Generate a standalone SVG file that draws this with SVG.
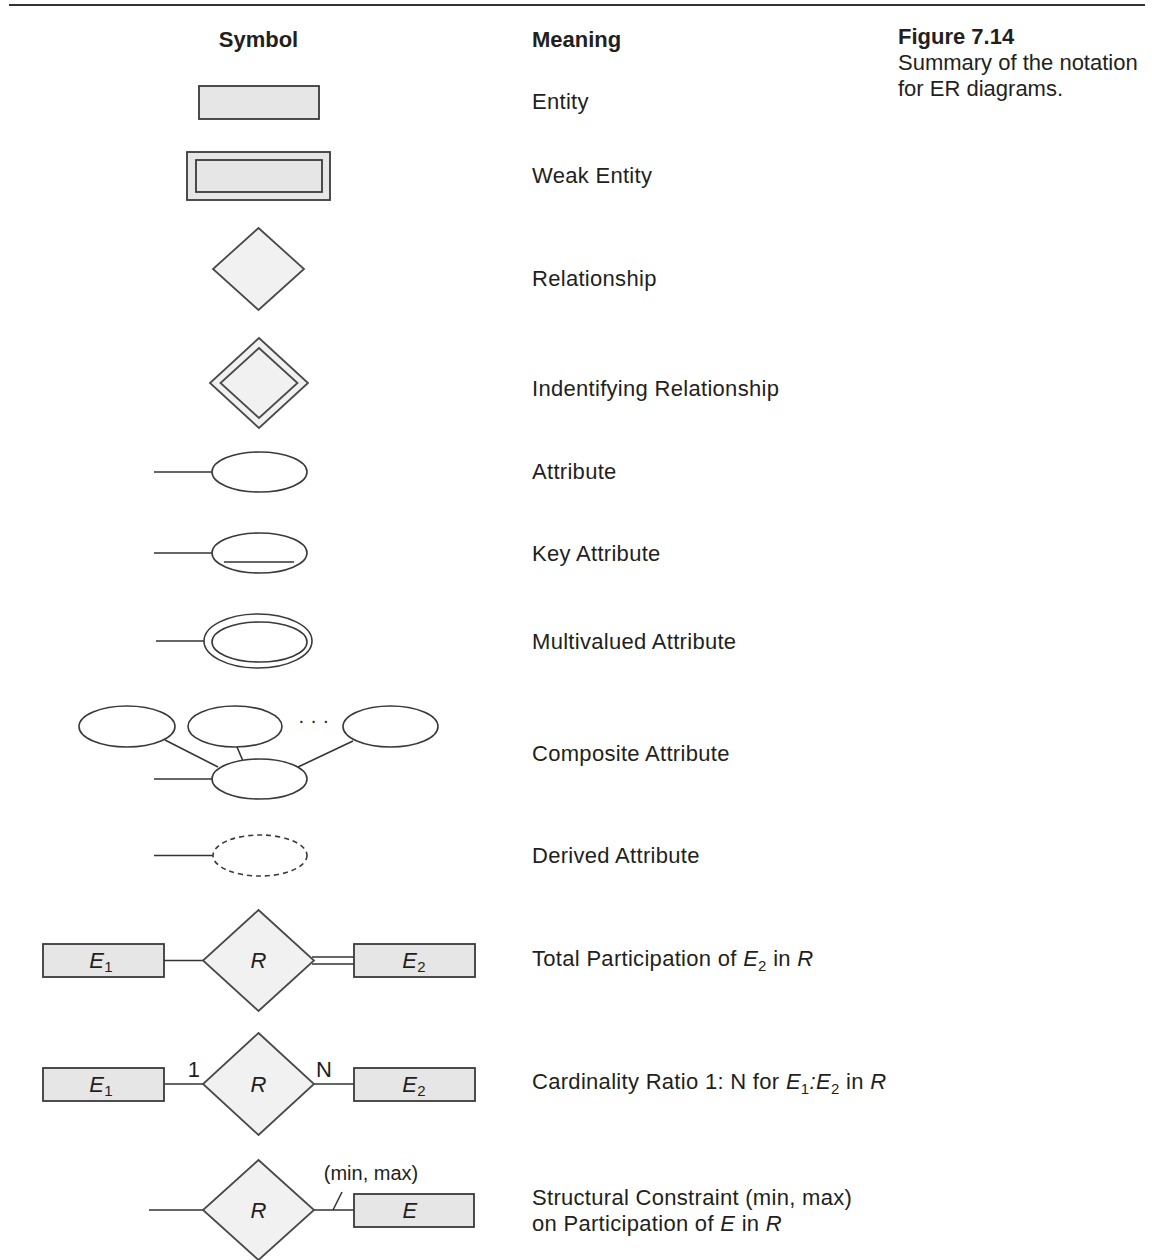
<svg xmlns="http://www.w3.org/2000/svg" width="1152" height="1260" viewBox="0 0 1152 1260">
  <style>
    text { font-family: "Liberation Sans", Arial, sans-serif; fill: #231f20; }
    .hdr { font-size: 22px; font-weight: bold; }
    .txt { font-size: 22px; letter-spacing: 0.3px; }
    .it { font-style: italic; }
    .sub { font-size: 15px; font-style: normal; }
    .ent { fill: #e6e6e6; stroke: #3a3a3a; stroke-width: 1.8; }
    .rel { fill: #f1f1f1; stroke: #4a4a4a; stroke-width: 1.8; }
    .att { fill: #ffffff; stroke: #3a3a3a; stroke-width: 1.6; }
    .ln { stroke: #333333; stroke-width: 1.6; fill: none; }
  </style>

  <!-- rule across the top -->
  <line x1="9" y1="5" x2="1145" y2="5" stroke="#333" stroke-width="2.2"/>

  <!-- column headers and caption -->
  <g id="headers">
    <text class="hdr" x="258.5" y="47" text-anchor="middle">Symbol</text>
    <text class="hdr" x="532" y="47">Meaning</text>
    <text class="hdr" x="898" y="44">Figure 7.14</text>
    <text class="txt" x="898" y="70" style="letter-spacing:0">Summary of the notation</text>
    <text class="txt" x="898" y="96" style="letter-spacing:0">for ER diagrams.</text>
  </g>

  <!-- meaning column -->
  <g id="meanings">
    <text class="txt" x="532" y="109">Entity</text>
    <text class="txt" x="532" y="183">Weak Entity</text>
    <text class="txt" x="532" y="286">Relationship</text>
    <text class="txt" x="532" y="396">Indentifying Relationship</text>
    <text class="txt" x="532" y="479">Attribute</text>
    <text class="txt" x="532" y="561">Key Attribute</text>
    <text class="txt" x="532" y="649">Multivalued Attribute</text>
    <text class="txt" x="532" y="761">Composite Attribute</text>
    <text class="txt" x="532" y="863">Derived Attribute</text>
    <text class="txt" x="532" y="966">Total Participation of <tspan class="it">E</tspan><tspan class="sub" dy="5">2</tspan><tspan dy="-5"> in </tspan><tspan class="it">R</tspan></text>
    <text class="txt" x="532" y="1089">Cardinality Ratio 1: N for <tspan class="it">E</tspan><tspan class="sub" dy="5">1</tspan><tspan dy="-5" class="it">:E</tspan><tspan class="sub" dy="5">2</tspan><tspan dy="-5"> in </tspan><tspan class="it">R</tspan></text>
    <text class="txt" x="532" y="1205">Structural Constraint (min, max)</text>
    <text class="txt" x="532" y="1231">on Participation of <tspan class="it">E</tspan> in <tspan class="it">R</tspan></text>
  </g>

  <!-- connectors -->
  <g id="connectors">
    <line class="ln" x1="154" y1="472" x2="212" y2="472"/>
    <line class="ln" x1="154" y1="553" x2="212" y2="553"/>
    <line class="ln" x1="156" y1="641" x2="204" y2="641"/>
    <line class="ln" x1="154" y1="779" x2="212" y2="779"/>
    <line class="ln" x1="165" y1="740" x2="218" y2="767"/>
    <line class="ln" x1="237" y1="747" x2="243" y2="761"/>
    <line class="ln" x1="353" y1="741" x2="298" y2="767"/>
    <line class="ln" x1="154" y1="855.5" x2="213" y2="855.5"/>
    <!-- total participation -->
    <line class="ln" x1="164" y1="960.5" x2="203" y2="960.5"/>
    <line class="ln" x1="312" y1="957" x2="354" y2="957"/>
    <line class="ln" x1="312" y1="964" x2="354" y2="964"/>
    <!-- cardinality -->
    <line class="ln" x1="164" y1="1084" x2="203" y2="1084"/>
    <line class="ln" x1="314" y1="1084" x2="354" y2="1084"/>
    <!-- structural constraint -->
    <line class="ln" x1="149" y1="1210" x2="203" y2="1210"/>
    <line class="ln" x1="314" y1="1210" x2="354" y2="1210"/>
    <line class="ln" x1="333" y1="1210" x2="342" y2="1192"/>
  </g>

  <g id="entity">
    <rect class="ent" x="199" y="86" width="120" height="33"/>
  </g>

  <g id="weak-entity">
    <rect class="ent" x="187" y="152" width="143" height="48"/>
    <rect class="ent" x="196" y="160" width="126" height="32"/>
  </g>

  <g id="relationship">
    <polygon class="rel" points="258.5,228 304,269 258.5,310 213,269"/>
  </g>

  <g id="identifying-relationship">
    <polygon class="rel" points="259,338 308,383 259,428 210,383"/>
    <polygon class="rel" points="259,348 297.5,383 259,418 220.5,383"/>
  </g>

  <g id="attribute">
    <ellipse class="att" cx="259.5" cy="472" rx="47.5" ry="20"/>
  </g>

  <g id="key-attribute">
    <ellipse class="att" cx="259.5" cy="553" rx="47.5" ry="20"/>
    <line class="ln" x1="224" y1="562" x2="294" y2="562"/>
  </g>

  <g id="multivalued-attribute">
    <ellipse class="att" cx="258" cy="641" rx="54" ry="27"/>
    <ellipse class="att" cx="259.5" cy="642" rx="47.5" ry="20"/>
  </g>

  <g id="composite-attribute">
    <ellipse class="att" cx="127" cy="726.5" rx="48" ry="20.5"/>
    <ellipse class="att" cx="235" cy="726.5" rx="47" ry="20.5"/>
    <ellipse class="att" cx="390.5" cy="726.5" rx="47.5" ry="20.5"/>
    <ellipse class="att" cx="259.5" cy="779" rx="47.5" ry="20"/>
    <text x="313.5" y="727" font-size="20" text-anchor="middle" fill="#444">· · ·</text>
  </g>

  <g id="derived-attribute">
    <ellipse class="att" cx="260" cy="855.5" rx="47" ry="20.5" stroke-dasharray="5,4"/>
  </g>

  <g id="total-participation">
    <rect class="ent" x="43" y="944" width="121" height="33"/>
    <polygon class="rel" points="258.5,910 314,960.5 258.5,1011 203,960.5"/>
    <rect class="ent" x="354" y="944" width="121" height="33"/>
    <text class="txt" x="101" y="968" text-anchor="middle"><tspan class="it">E</tspan><tspan class="sub" dy="4">1</tspan></text>
    <text class="txt it" x="258.5" y="968" text-anchor="middle">R</text>
    <text class="txt" x="414" y="968" text-anchor="middle"><tspan class="it">E</tspan><tspan class="sub" dy="4">2</tspan></text>
  </g>

  <g id="cardinality-ratio">
    <rect class="ent" x="43" y="1068" width="121" height="33"/>
    <polygon class="rel" points="258.5,1033 314,1084 258.5,1135 203,1084"/>
    <rect class="ent" x="354" y="1068" width="121" height="33"/>
    <text class="txt" x="101" y="1092" text-anchor="middle"><tspan class="it">E</tspan><tspan class="sub" dy="4">1</tspan></text>
    <text class="txt it" x="258.5" y="1092" text-anchor="middle">R</text>
    <text class="txt" x="414" y="1092" text-anchor="middle"><tspan class="it">E</tspan><tspan class="sub" dy="4">2</tspan></text>
    <text class="txt" x="194" y="1077" text-anchor="middle" font-size="21">1</text>
    <text class="txt" x="324" y="1077" text-anchor="middle" font-size="21">N</text>
  </g>

  <g id="structural-constraint">
    <polygon class="rel" points="258.5,1160 314,1210 258.5,1260 203,1210"/>
    <rect class="ent" x="354" y="1194" width="120" height="33"/>
    <text class="txt it" x="258.5" y="1218" text-anchor="middle">R</text>
    <text class="txt it" x="410" y="1218" text-anchor="middle">E</text>
    <text x="371" y="1180" font-size="20" text-anchor="middle">(min, max)</text>
  </g>
</svg>
